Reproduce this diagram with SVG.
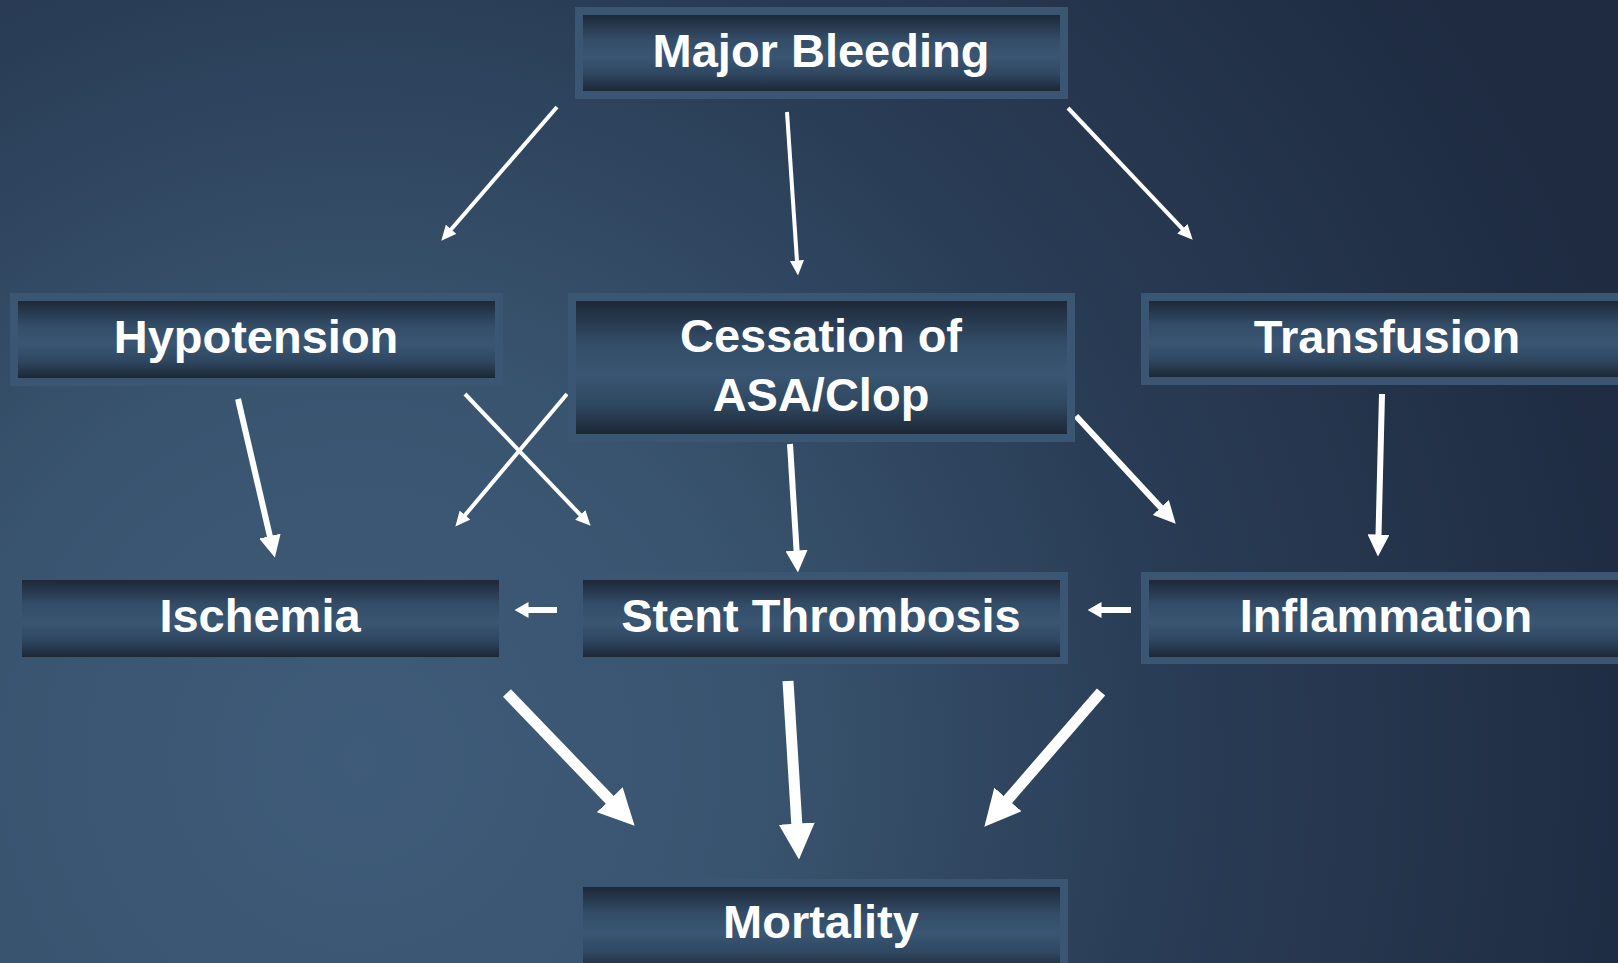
<svg xmlns="http://www.w3.org/2000/svg" width="1618" height="963" viewBox="0 0 1618 963">
<defs>
<radialGradient id="bg" gradientUnits="userSpaceOnUse" cx="360" cy="760" r="1320">
<stop offset="0" stop-color="#3e5b79"/>
<stop offset="0.3" stop-color="#39546f"/>
<stop offset="0.6" stop-color="#2a3d56"/>
<stop offset="1" stop-color="#1e2b41"/>
</radialGradient>
<linearGradient id="boxfill" x1="0" y1="0" x2="0" y2="1">
<stop offset="0" stop-color="#1d2838"/>
<stop offset="0.32" stop-color="#334d68"/>
<stop offset="0.55" stop-color="#3a5672"/>
<stop offset="0.78" stop-color="#2f4761"/>
<stop offset="1" stop-color="#1c2735"/>
</linearGradient>
<marker id="hThin" markerUnits="userSpaceOnUse" viewBox="0 0 15 14" markerWidth="15" markerHeight="14" refX="0.5" refY="7" orient="auto"><path d="M0,0 L15,7 L0,14 z" fill="#fff"/></marker>
<marker id="hMed" markerUnits="userSpaceOnUse" viewBox="0 0 22 22" markerWidth="22" markerHeight="22" refX="0.5" refY="11" orient="auto"><path d="M0,0 L22,11 L0,22 z" fill="#fff"/></marker>
<marker id="hSmall" markerUnits="userSpaceOnUse" viewBox="0 0 14 16" markerWidth="14" markerHeight="16" refX="0.5" refY="8" orient="auto"><path d="M0,0 L14,8 L0,16 z" fill="#fff"/></marker>
<marker id="hBig" markerUnits="userSpaceOnUse" viewBox="0 0 36 36" markerWidth="36" markerHeight="36" refX="0.5" refY="18" orient="auto"><path d="M0,0 L36,18 L0,36 z" fill="#fff"/></marker>
</defs>
<style>
.frame{fill:#3b5673}
.inner{fill:url(#boxfill)}
.lbl{font-family:"Liberation Sans",Arial,sans-serif;font-weight:bold;font-size:47px;fill:#ffffff;text-anchor:middle}
.c{stroke:#ffffff;fill:none;stroke-linecap:butt}
.thin{stroke-width:4;marker-end:url(#hThin)}
.med{stroke-width:6;marker-end:url(#hMed)}
.small{stroke-width:6;marker-end:url(#hSmall)}
.big{stroke-width:11;marker-end:url(#hBig)}
</style>
<rect width="1618" height="963" fill="url(#bg)"/>

<g id="connectors">
<line class="c thin" x1="557" y1="107" x2="450.8" y2="229.7"/>
<line class="c thin" x1="787" y1="112" x2="797" y2="261"/>
<line class="c thin" x1="1068" y1="108" x2="1182.7" y2="229.1"/>
<line class="c med" x1="238" y1="399" x2="270" y2="536.6"/>
<line class="c thin" x1="465" y1="394" x2="580.6" y2="515.2"/>
<line class="c thin" x1="567" y1="394" x2="464.7" y2="515.5"/>
<line class="c med" x1="790" y1="444" x2="796.6" y2="551"/>
<line class="c med" x1="1076" y1="416" x2="1161.1" y2="507.9"/>
<line class="c med" x1="1382" y1="394" x2="1378.5" y2="535"/>
<line class="c small" x1="557" y1="610" x2="528" y2="610"/>
<line class="c small" x1="1131" y1="610" x2="1101" y2="610"/>
<line class="c big" x1="507" y1="693" x2="610" y2="800.1"/>
<line class="c big" x1="788" y1="681" x2="796.8" y2="824.1"/>
<line class="c big" x1="1101" y1="692" x2="1007.6" y2="799.8"/>
</g>

<g id="major-bleeding">
<rect class="frame" x="575" y="7" width="493" height="92"/>
<rect class="inner" x="583" y="15" width="477" height="76"/>
<text class="lbl" x="821" y="67">Major Bleeding</text>
</g>
<g id="hypotension">
<rect class="frame" x="10" y="293" width="493" height="93"/>
<rect class="inner" x="18" y="301" width="477" height="77"/>
<text class="lbl" x="256" y="353">Hypotension</text>
</g>
<g id="cessation">
<rect class="frame" x="568" y="293" width="507" height="149"/>
<rect class="inner" x="576" y="301" width="491" height="133"/>
<text class="lbl" x="821" y="352">Cessation of</text>
<text class="lbl" x="821" y="411">ASA/Clop</text>
</g>
<g id="transfusion">
<rect class="frame" x="1141" y="293" width="492" height="92"/>
<rect class="inner" x="1149" y="301" width="476" height="76"/>
<text class="lbl" x="1387" y="353">Transfusion</text>
</g>
<g id="ischemia">
<rect class="inner" x="22" y="580" width="477" height="77"/>
<text class="lbl" x="260" y="632">Ischemia</text>
</g>
<g id="stent-thrombosis">
<rect class="frame" x="575" y="572" width="493" height="92"/>
<rect class="inner" x="583" y="580" width="477" height="77"/>
<text class="lbl" x="821" y="632">Stent Thrombosis</text>
</g>
<g id="inflammation">
<rect class="frame" x="1141" y="572" width="492" height="92"/>
<rect class="inner" x="1149" y="580" width="476" height="77"/>
<text class="lbl" x="1386" y="632">Inflammation</text>
</g>
<g id="mortality">
<rect class="frame" x="575" y="879" width="493" height="92"/>
<rect class="inner" x="583" y="887" width="477" height="84"/>
<text class="lbl" x="821" y="938">Mortality</text>
</g>
</svg>
